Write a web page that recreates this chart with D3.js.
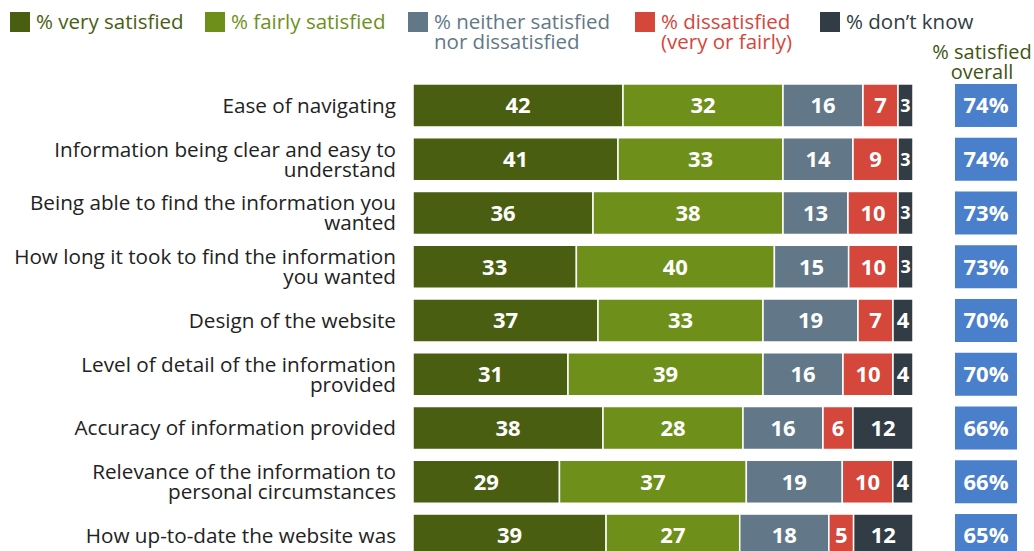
<!DOCTYPE html>
<html><head><meta charset="utf-8">
<script src="https://cdn.jsdelivr.net/npm/d3@7"></script>
<style>body{margin:0;background:#fff;}svg{display:block;font-family:"Open Sans","Noto Sans",sans-serif;}</style>
</head><body><svg id="c" width="1034" height="551"></svg>
<script>
const categories = [
  ["Ease of navigating"],
  ["Information being clear and easy to","understand"],
  ["Being able to find the information you","wanted"],
  ["How long it took to find the information","you wanted"],
  ["Design of the website"],
  ["Level of detail of the information","provided"],
  ["Accuracy of information provided"],
  ["Relevance of the information to","personal circumstances"],
  ["How up-to-date the website was"]
];
const seriesNames = [["% very satisfied"],["% fairly satisfied"],["% neither satisfied","nor dissatisfied"],["% dissatisfied","(very or fairly)"],["% don\u2019t know"]];
const colors = ["#4a5e12","#6e901a","#627888","#d5463b","#313c44"];
const verySatisfied = [42,41,36,33,37,31,38,29,39];
const fairlySatisfied = [32,33,38,40,33,39,28,37,27];
const neither = [16,14,13,15,19,16,16,19,18];
const dissatisfied = [7,9,10,10,7,10,6,10,5];
const dontKnow = [3,3,3,3,4,4,12,4,12];
const overall = [74,74,73,73,70,70,66,66,65];
const series = [verySatisfied,fairlySatisfied,neither,dissatisfied,dontKnow];

const svg = d3.select("#c");
const x = d3.scaleLinear().domain([0,100]).range([413,913]);
const y = d3.scaleBand().domain(d3.range(categories.length)).range([78.6,562.4]).paddingInner(0.2).paddingOuter(0.1);

categories.forEach((c,i)=>{
  const total = d3.sum(series, s=>s[i]);
  let cum = 0;
  series.forEach((s,j)=>{
    const v = s[i];
    const x0 = x(cum/total*100), x1 = x((cum+v)/total*100);
    cum += v;
    svg.append("rect").attr("x",x0).attr("y",y(i)).attr("width",x1-x0).attr("height",y.bandwidth())
      .attr("fill",colors[j]).attr("stroke","#fff").attr("stroke-width",1.5);
    svg.append("text").attr("x",(x0+x1)/2).attr("y",y(i)+y.bandwidth()/2).attr("dy","0.36em")
      .attr("text-anchor","middle").attr("fill","#fff").attr("font-weight","bold")
      .attr("font-size", v<4 ? 18 : 22).text(v);
  });
  svg.append("rect").attr("x",955).attr("y",y(i)).attr("width",62).attr("height",y.bandwidth()).attr("fill","#4a7fcb");
  svg.append("text").attr("x",986).attr("y",y(i)+y.bandwidth()/2).attr("dy","0.36em").attr("text-anchor","middle")
    .attr("fill","#fff").attr("font-weight","bold").attr("font-size",22).text(overall[i]+"%");
  const t = svg.append("text").attr("text-anchor","end").attr("fill","#222").attr("font-size",20.7);
  const cy = y(i)+y.bandwidth()/2;
  c.forEach((line,k)=>{
    t.append("tspan").attr("x",396).attr("y",cy + (k-(c.length-1)/2)*20).attr("dy","0.36em").text(line);
  });
});

const legX = [10,205,408,635,820];
seriesNames.forEach((n,j)=>{
  svg.append("rect").attr("x",legX[j]).attr("y",12).attr("width",20).attr("height",20).attr("fill",colors[j]);
  const t = svg.append("text").attr("fill",colors[j]).attr("font-size",20.5);
  n.forEach((line,k)=>{
    t.append("tspan").attr("x",legX[j]+26).attr("y",22+k*20).attr("dy","0.36em").text(line);
  });
});
const ov = svg.append("text").attr("fill","#3f5512").attr("font-size",20).attr("text-anchor","middle");
["% satisfied","overall"].forEach((l,k)=>ov.append("tspan").attr("x",982).attr("y",52+k*20).attr("dy","0.36em").text(l));
</script></body></html>
